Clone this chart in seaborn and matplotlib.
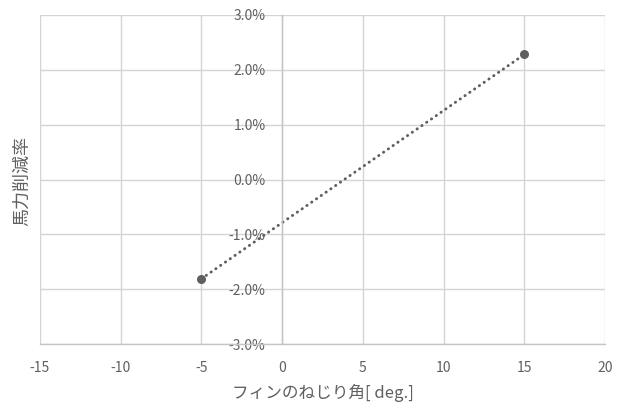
import matplotlib
matplotlib.use("Agg")
import matplotlib.pyplot as plt
import matplotlib.ticker as mticker
import seaborn as sns
import pandas as pd

# Fin twist angle [deg] vs. horsepower reduction rate [%]
twist_angle = [-5, 15]
reduction_rate = [-1.81, 2.28]

x_ticks = [-15, -10, -5, 0, 5, 10, 15, 20]
y_ticks = [-3, -2, -1, 0, 1, 2, 3]

sns.set_theme(style="white")
plt.rcParams["font.family"] = ["Noto Sans CJK JP", "DejaVu Sans"]
plt.rcParams["axes.unicode_minus"] = False

df = pd.DataFrame({"angle": twist_angle, "rate": reduction_rate})

fig = plt.figure(figsize=(6.17, 4.12), dpi=100)
ax = fig.add_axes([40 / 617, 1 - 344 / 412, 565 / 617, 329 / 412])

sns.lineplot(data=df, x="angle", y="rate", ax=ax, color="#5f5f5f",
             linestyle=(0, (0.1, 1.9)), linewidth=2.1,
             marker="o", markersize=6.5, markeredgewidth=0,
             dash_capstyle="round")

ax.set_xlim(-15, 20)
ax.set_ylim(-3, 3)
ax.set_xticks(x_ticks)
ax.set_yticks(y_ticks)
ax.yaxis.set_major_formatter(mticker.FuncFormatter(lambda v, _: f"{v:.1f}%"))

grid_color = "#d4d4d4"
ax.grid(True, color=grid_color, linewidth=1.0)
ax.set_axisbelow(True)

for side in ["top", "right"]:
    ax.spines[side].set_visible(False)
ax.spines["left"].set_position(("data", 0))
ax.spines["left"].set_color("#c4c4c4")
ax.spines["left"].set_linewidth(1.0)
ax.spines["bottom"].set_color("#c4c4c4")
ax.spines["bottom"].set_linewidth(1.0)

ax.tick_params(axis="both", length=0, labelsize=10, labelcolor="#606060")
ax.tick_params(axis="y", pad=12)
ax.tick_params(axis="x", pad=12)

ax.set_xlabel("フィンのねじり角[ deg.]", fontsize=12, color="#606060", labelpad=7)
ax.set_ylabel("")
fig.text(22 / 617, 1 - 181 / 412, "馬力削減率", rotation=90, fontsize=13,
         color="#606060", ha="center", va="center")

fig.savefig("out.png", dpi=100, facecolor="white")
